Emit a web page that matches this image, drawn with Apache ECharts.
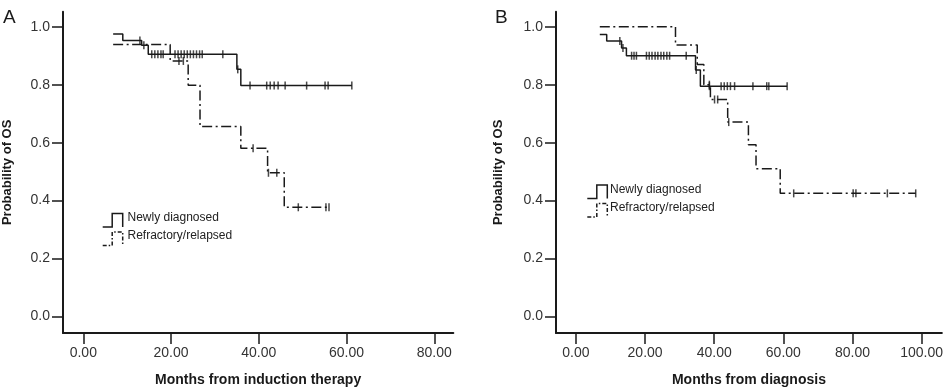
<!DOCTYPE html>
<html>
<head>
<meta charset="utf-8">
<script src="https://cdn.jsdelivr.net/npm/echarts@6/dist/echarts.min.js"></script>
<style>
html,body{margin:0;padding:0;background:#fff;}
#chart{width:946px;height:392px;}
</style>
</head>
<body>
<div id="chart"></div>
<script>
// ---- Data ----
const xTicksA = [0, 20, 40, 60, 80];
const xTicksB = [0, 20, 40, 60, 80, 100];
const yTicks = [0, 0.2, 0.4, 0.6, 0.8, 1.0];
const xTickLabelsA = ['0.00', '20.00', '40.00', '60.00', '80.00'];
const xTickLabelsB = ['0.00', '20.00', '40.00', '60.00', '80.00', '100.00'];
const yTickLabels = ['0.0', '0.2', '0.4', '0.6', '0.8', '1.0'];

const seriesNames = ['Newly diagnosed', 'Refractory/relapsed'];

// Panel A: months from induction therapy
const newlyA_time = [6.8, 9.0, 13.3, 14.8, 35.0, 35.9, 61.2];
const newlyA_surv = [0.975, 0.953, 0.936, 0.905, 0.853, 0.797, 0.797];
const newlyA_censor = [12.9, 13.8, 15.6, 16.3, 17.0, 17.7, 18.2, 20.9, 21.6, 22.3, 23.0, 23.7, 24.4, 25.1, 25.8, 26.5, 27.1, 31.8, 35.2, 38.0, 41.8, 42.6, 43.5, 44.4, 46.0, 50.9, 55.1, 55.8, 61.2];

const refA_time = [6.8, 19.8, 23.9, 26.6, 35.9, 42.0, 45.8, 56.3];
const refA_surv = [0.939, 0.882, 0.798, 0.656, 0.581, 0.496, 0.377, 0.377];
const refA_censor = [21.8, 22.8, 38.7, 42.2, 44.1, 49.0, 55.3, 56.0];

// Panel B: months from diagnosis
const newlyB_time = [6.9, 8.9, 13.2, 14.6, 34.6, 36.0, 61.1];
const newlyB_surv = [0.973, 0.951, 0.927, 0.900, 0.851, 0.795, 0.795];
const newlyB_censor = [12.7, 13.6, 16.1, 16.8, 17.5, 20.4, 21.2, 22.0, 22.9, 23.7, 24.6, 25.4, 26.3, 27.1, 31.9, 34.8, 38.6, 42.0, 42.9, 43.8, 44.7, 45.9, 51.2, 55.2, 55.8, 61.1];

const refB_time = [6.9, 28.8, 35.1, 37.0, 38.9, 43.9, 49.9, 52.1, 59.1, 98.3];
const refB_surv = [1.0, 0.937, 0.870, 0.800, 0.749, 0.671, 0.593, 0.510, 0.425, 0.425];
const refB_censor = [38.6, 40.1, 41.0, 44.2, 63.0, 80.2, 81.0, 90.1, 98.3];

// ---- Helpers ----
function pairs(t, s) { return t.map((v, i) => [v, s[i]]); }
function survAt(t, s, x) {
  let v = s[0];
  for (let i = 0; i < t.length; i++) { if (t[i] <= x) v = s[i]; }
  return v;
}
function censorPts(t, s, c) { return c.map(x => [x, survAt(t, s, x)]); }

const INK = '#1a1a1a';
const FONT = '"Liberation Sans", Arial, Helvetica, sans-serif';
const DASH = [10, 3.5, 2, 3.5];

function xAxisDef(gridIndex, min, max, ticks, labels, name) {
  return {
    type: 'value', gridIndex, min, max,
    name, nameLocation: 'middle', nameGap: 40,
    nameTextStyle: { fontFamily: FONT, fontWeight: 'bold', fontSize: 14, color: '#1a1a1a' },
    axisLine: { show: true, onZero: false, lineStyle: { color: INK, width: 2 } },
    axisTick: { show: true, length: 11, customValues: ticks, lineStyle: { color: INK, width: 1.5 } },
    axisLabel: {
      show: true, margin: 13, customValues: ticks,
      fontFamily: FONT, fontSize: 14, color: '#333',
      formatter: v => { const i = ticks.indexOf(v); return i >= 0 ? labels[i] : ''; }
    },
    splitLine: { show: false }
  };
}
function yAxisDef(gridIndex, gap) {
  return {
    type: 'value', gridIndex, min: -0.057, max: 1.052,
    name: 'Probability of OS', nameLocation: 'middle', nameGap: gap,
    nameTextStyle: { fontFamily: FONT, fontWeight: 'bold', fontSize: 13, color: '#1a1a1a' },
    axisLine: { show: true, onZero: false, lineStyle: { color: INK, width: 2 } },
    axisTick: { show: true, length: 11, customValues: yTicks, lineStyle: { color: INK, width: 1.5 } },
    axisLabel: {
      show: true, margin: 13, customValues: yTicks,
      fontFamily: FONT, fontSize: 14, color: '#333',
      formatter: v => { const i = yTicks.findIndex(t => Math.abs(t - v) < 1e-9); return i >= 0 ? yTickLabels[i] : ''; }
    },
    splitLine: { show: false }
  };
}
function stepSeries(name, idx, t, s, dashed) {
  return {
    name, type: 'line', xAxisIndex: idx, yAxisIndex: idx, step: 'end',
    data: pairs(t, s), symbol: 'none', silent: true,
    lineStyle: { color: INK, width: 1.5, type: dashed ? DASH : 'solid' },
    z: 3
  };
}
function censorSeries(name, idx, t, s, c) {
  return {
    name, type: 'scatter', xAxisIndex: idx, yAxisIndex: idx,
    data: censorPts(t, s, c), symbol: 'rect', symbolSize: [1.5, 8],
    itemStyle: { color: INK }, silent: true, z: 4
  };
}
function legendGraphic(x, y1, y2, textX) {
  const mk = (yb, dashed) => ({
    type: 'polyline',
    shape: { points: [[x, yb], [x + 9.5, yb], [x + 9.5, yb - 13.5], [x + 20, yb - 13.5], [x + 20, yb]] },
    style: { stroke: INK, lineWidth: 1.5, fill: null, lineDash: dashed ? [4, 2, 1.5, 2] : null }
  });
  return [
    mk(y1, false), mk(y2, true),
    { type: 'text', x: textX, y: y1 - 9, style: { text: seriesNames[0], font: '12px ' + FONT, fill: '#222', verticalAlign: 'middle' } },
    { type: 'text', x: textX, y: y2 - 9.5, style: { text: seriesNames[1], font: '12px ' + FONT, fill: '#222', verticalAlign: 'middle' } }
  ];
}

const chart = echarts.init(document.getElementById('chart'), null, { renderer: 'canvas' });
chart.setOption({
  animation: false,
  backgroundColor: '#fff',
  grid: [
    { left: 63, right: 946 - 453.3, top: 11.7, bottom: 392 - 342.7, containLabel: false },
    { left: 556, right: 3, top: 11.7, bottom: 392 - 342.7, containLabel: false }
  ],
  xAxis: [
    xAxisDef(0, -4.63, 84.33, xTicksA, xTickLabelsA, 'Months from induction therapy'),
    xAxisDef(1, -5.77, 105.86, xTicksB, xTickLabelsB, 'Months from diagnosis')
  ],
  yAxis: [yAxisDef(0, 49), yAxisDef(1, 51)],
  series: [
    stepSeries(seriesNames[0], 0, newlyA_time, newlyA_surv, false),
    censorSeries(seriesNames[0], 0, newlyA_time, newlyA_surv, newlyA_censor),
    stepSeries(seriesNames[1], 0, refA_time, refA_surv, true),
    censorSeries(seriesNames[1], 0, refA_time, refA_surv, refA_censor),
    stepSeries(seriesNames[0], 1, newlyB_time, newlyB_surv, false),
    censorSeries(seriesNames[0], 1, newlyB_time, newlyB_surv, newlyB_censor),
    stepSeries(seriesNames[1], 1, refB_time, refB_surv, true),
    censorSeries(seriesNames[1], 1, refB_time, refB_surv, refB_censor)
  ],
  graphic: [
    { type: 'text', x: 3, y: 8, style: { text: 'A', font: '19px ' + FONT, fill: '#1a1a1a' } },
    { type: 'text', x: 495, y: 8, style: { text: 'B', font: '19px ' + FONT, fill: '#1a1a1a' } },
    ...legendGraphic(102.7, 227, 245.5, 127.5),
    ...legendGraphic(587.3, 198.5, 217, 610)
  ]
});
</script>
</body>
</html>
